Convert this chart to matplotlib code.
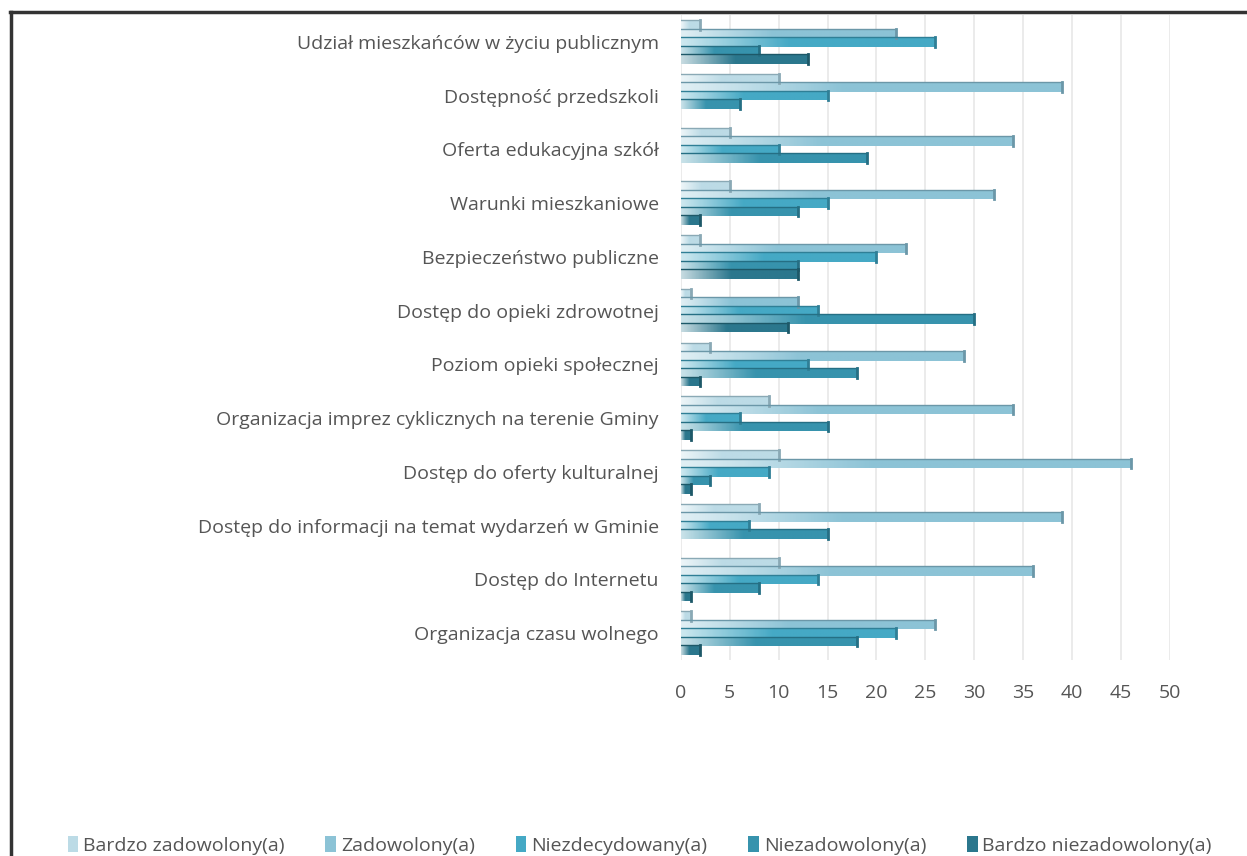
import numpy as np
import matplotlib
matplotlib.use('Agg')
import matplotlib.pyplot as plt
from matplotlib.colors import LinearSegmentedColormap
from matplotlib.lines import Line2D
from matplotlib.patches import Patch

plt.rcParams['font.family'] = ['Open Sans', 'DejaVu Sans']

categories = ['Udział mieszkańców w życiu publicznym',
              'Dostępność przedszkoli',
              'Oferta edukacyjna szkół',
              'Warunki mieszkaniowe',
              'Bezpieczeństwo publiczne',
              'Dostęp do opieki zdrowotnej',
              'Poziom opieki społecznej',
              'Organizacja imprez cyklicznych na terenie Gminy',
              'Dostęp do oferty kulturalnej',
              'Dostęp do informacji na temat wydarzeń w Gminie',
              'Dostęp do Internetu',
              'Organizacja czasu wolnego']
series = ['Bardzo zadowolony(a)', 'Zadowolony(a)', 'Niezdecydowany(a)',
          'Niezadowolony(a)', 'Bardzo niezadowolony(a)']
bardzo_zadowolony = [2, 10, 5, 5, 2, 1, 3, 9, 10, 8, 10, 1]
zadowolony = [22, 39, 34, 32, 23, 12, 29, 34, 46, 39, 36, 26]
niezdecydowany = [26, 15, 10, 15, 20, 14, 13, 6, 9, 7, 14, 22]
niezadowolony = [8, 6, 19, 12, 12, 30, 18, 15, 3, 15, 8, 18]
bardzo_niezadowolony = [13, 0, 0, 2, 12, 11, 2, 1, 1, 0, 1, 2]
values = [bardzo_zadowolony, zadowolony, niezdecydowany, niezadowolony,
          bardzo_niezadowolony]
colors = ['#bcdbe6', '#8cc3d6', '#45a9c5', '#3793ad', '#2b778d']
edges = ['#8aa9b5', '#6b97a8', '#2f7f96', '#256f84', '#1d5868']

fig = plt.figure(figsize=(12.47, 8.56), dpi=100)
ax = fig.add_axes([0.546, 0.229, 0.392, 0.7535])

y = np.arange(len(categories))
step = 0.158
h = 0.175
for i, (vals, c, ec) in enumerate(zip(values, colors, edges)):
    pos = y + (i - 2) * step
    bars = ax.barh(pos, vals, height=h, color='none', edgecolor='none',
                   zorder=3)
    cmap = LinearSegmentedColormap.from_list('g', ['#ffffff', c, c])
    grad = np.linspace(0, 1, 256).reshape(1, -1)
    for b, v in zip(bars, vals):
        if v <= 0:
            continue
        x0, y0 = b.get_x(), b.get_y()
        im = ax.imshow(grad, cmap=cmap, aspect='auto', zorder=3,
                       extent=[x0, x0 + v, y0 + h, y0], vmin=-0.15, vmax=1)
        im.set_clip_path(b)
        ax.plot([x0, x0 + v], [y0, y0], color=ec, lw=1.0, zorder=4)
        ax.plot([x0 + v, x0 + v], [y0, y0 + h], color=ec, lw=2.0, zorder=4)

ax.set_xlim(0, 50)
ax.set_ylim(len(categories) - 0.5, -0.5)
ax.set_xticks(range(0, 51, 5))
ax.set_yticks(y)
ax.set_yticklabels(categories)
ax.grid(axis='x', color='#e8e8e8', lw=1.2, zorder=0)
for s in ax.spines.values():
    s.set_visible(False)
ax.tick_params(axis='both', length=0, colors='#555555', labelsize=14)
ax.tick_params(axis='x', pad=17)
ax.tick_params(axis='y', pad=16)

handles = [Patch(facecolor=c, edgecolor='none') for c in colors]
fig.legend(handles, series, loc='lower center', bbox_to_anchor=(0.513, -0.019),
           ncol=5, frameon=False, fontsize=14, handlelength=0.55,
           handleheight=0.9, handletextpad=0.25, columnspacing=2.1,
           labelcolor='#555555')

fig.add_artist(Line2D([10 / 1247, 1.0], [1 - 12 / 856, 1 - 12 / 856],
                      color='#333333', lw=2.5))
fig.add_artist(Line2D([11 / 1247, 11 / 1247], [0.0, 1 - 12 / 856],
                      color='#333333', lw=2.5))

fig.savefig('out.png', dpi=100)
